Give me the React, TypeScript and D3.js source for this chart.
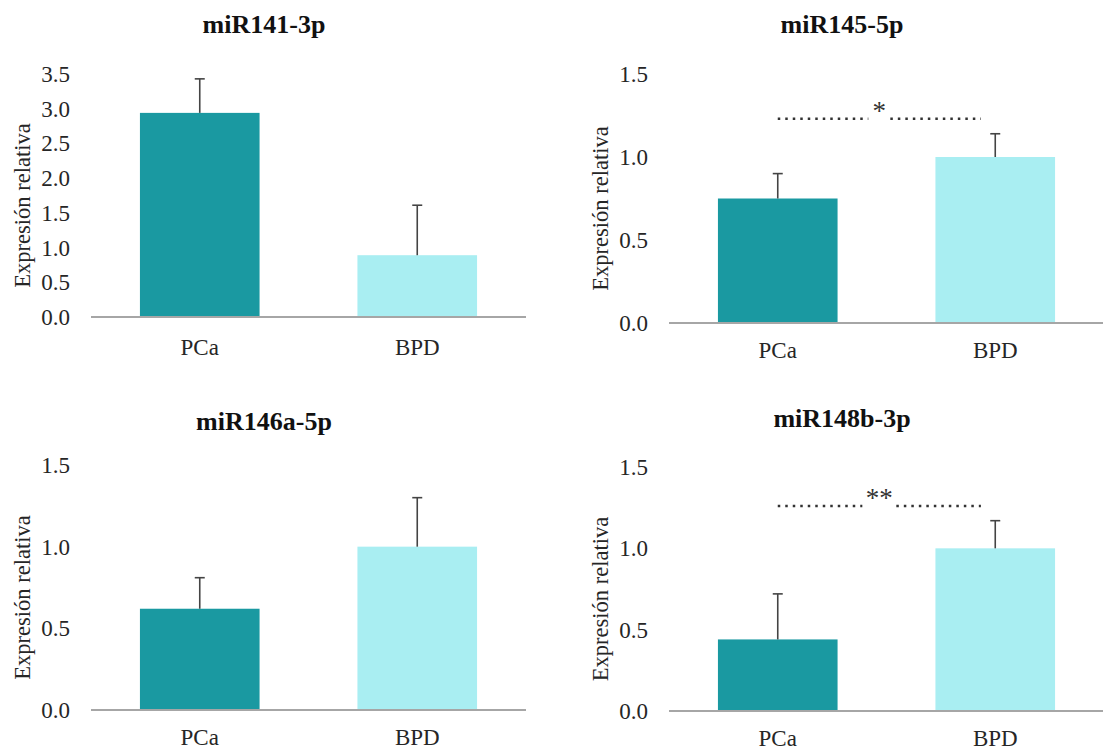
import React, { useEffect, useRef } from "react";
import * as d3 from "d3";

// values
const groups = ["PCa", "BPD"];
const mirnas = ["miR141-3p", "miR145-5p", "miR146a-5p", "miR148b-3p"];
const meanPCa = [2.94, 0.75, 0.62, 0.44];
const meanBPD = [0.89, 1.0, 1.0, 1.0];
const errPCa = [0.49, 0.15, 0.19, 0.28];
const errBPD = [0.72, 0.14, 0.3, 0.17];
const yMax = [3.5, 1.5, 1.5, 1.5];
const sigLevel = [null, 1.23, null, 1.26];
const sigMark = ["", "*", "", "**"];

const W = 1103;
const H = 751;
const FONT = '"Liberation Serif", Tinos, "Times New Roman", Times, "DejaVu Serif", serif';
const colors = ["#1a99a1", "#a9eef2"];

// panel placement on the page
const panels = [
  { left: 91, right: 526, base: 317, top: 74, titleX: 264, titleY: 33, labY: 355, axisEnd: 526 },
  { left: 669, right: 1104, base: 323, top: 74, titleX: 842, titleY: 33, labY: 358, axisEnd: 1103 },
  { left: 91, right: 526, base: 710, top: 465, titleX: 264, titleY: 430, labY: 745, axisEnd: 526 },
  { left: 669, right: 1104, base: 711, top: 467, titleX: 842, titleY: 427, labY: 746, axisEnd: 1103 },
];

export default function App() {
  const ref = useRef<SVGSVGElement>(null);

  useEffect(() => {
    const svg = d3.select(ref.current);
    svg.selectAll("*").remove();
    svg.append("rect").attr("width", W).attr("height", H).attr("fill", "#fff");

    mirnas.forEach((name, i) => {
      const p = panels[i];
      const g = svg.append("g");
      const x = d3.scaleBand().domain(groups).range([p.left, p.right]).paddingInner(0.45).paddingOuter(0.225);
      const y = d3.scaleLinear().domain([0, yMax[i]]).range([p.base, p.top]);
      const means = [meanPCa[i], meanBPD[i]];
      const errs = [errPCa[i], errBPD[i]];
      const bw = x.bandwidth();

      // title
      g.append("text")
        .attr("x", p.titleX).attr("y", p.titleY)
        .attr("text-anchor", "middle")
        .style("font-family", FONT)
        .attr("font-size", 26).attr("font-weight", "bold")
        .attr("fill", "#111")
        .text(name);

      // y ticks
      const ticks = d3.range(0, yMax[i] + 0.001, 0.5);
      g.selectAll(".tick")
        .data(ticks).enter().append("text")
        .attr("x", p.left - 21)
        .attr("y", (d) => y(d))
        .attr("dy", "0.35em")
        .attr("text-anchor", "end")
        .style("font-family", FONT)
        .attr("font-size", 23)
        .attr("fill", "#262626")
        .text((d) => d3.format(".1f")(d));

      // y label
      g.append("text")
        .attr("transform", `translate(${p.left - 69},${(p.base + p.top) / 2 + 10}) rotate(-90)`)
        .attr("text-anchor", "middle")
        .attr("dy", "0.35em")
        .style("font-family", FONT)
        .attr("font-size", 22.5)
        .attr("fill", "#262626")
        .text("Expresión relativa");

      // bars
      g.selectAll(".bar")
        .data(groups).enter().append("rect")
        .attr("x", (d) => x(d)!)
        .attr("y", (d, j) => y(means[j]))
        .attr("width", bw)
        .attr("height", (d, j) => p.base - y(means[j]))
        .attr("fill", (d, j) => colors[j]);

      // error bars
      groups.forEach((grp, j) => {
        const cx = x(grp)! + bw / 2;
        g.append("line")
          .attr("x1", cx).attr("x2", cx)
          .attr("y1", y(means[j])).attr("y2", y(means[j] + errs[j]))
          .attr("stroke", "#444").attr("stroke-width", 1.6);
        g.append("line")
          .attr("x1", cx - 5).attr("x2", cx + 5)
          .attr("y1", y(means[j] + errs[j])).attr("y2", y(means[j] + errs[j]))
          .attr("stroke", "#444").attr("stroke-width", 1.6);
      });

      // axis line
      g.append("line")
        .attr("x1", p.left).attr("x2", p.axisEnd)
        .attr("y1", p.base).attr("y2", p.base)
        .attr("stroke", "#a6a6a6").attr("stroke-width", 2);

      // category labels
      g.selectAll(".cat")
        .data(groups).enter().append("text")
        .attr("x", (d) => x(d)! + bw / 2)
        .attr("y", p.labY)
        .attr("text-anchor", "middle")
        .style("font-family", FONT)
        .attr("font-size", 23)
        .attr("fill", "#262626")
        .text((d) => d);

      // significance
      const lvl = sigLevel[i];
      if (lvl != null) {
        const x1 = x("PCa")! + bw / 2;
        const x2 = x("BPD")! + bw * 0.38;
        const mid = (x1 + x2) / 2;
        const gap = sigMark[i].length === 1 ? 11 : 17;
        const ly = y(lvl);
        [[x1, mid - gap], [mid + gap, x2]].forEach(([a, b]) => {
          g.append("line")
            .attr("x1", a).attr("x2", b)
            .attr("y1", ly).attr("y2", ly)
            .attr("stroke", "#333").attr("stroke-width", 2.5)
            .attr("stroke-dasharray", "2.5 5");
        });
        g.append("text")
          .attr("x", mid).attr("y", ly + 1)
          .attr("text-anchor", "middle")
          .style("font-family", FONT)
          .attr("font-size", 27)
          .attr("fill", "#333")
          .text(sigMark[i]);
      }
    });
  }, []);

  return (
    <svg
      ref={ref}
      width={W}
      height={H}
      style={{ position: "absolute", left: 0, top: 0 }}
    />
  );
}
